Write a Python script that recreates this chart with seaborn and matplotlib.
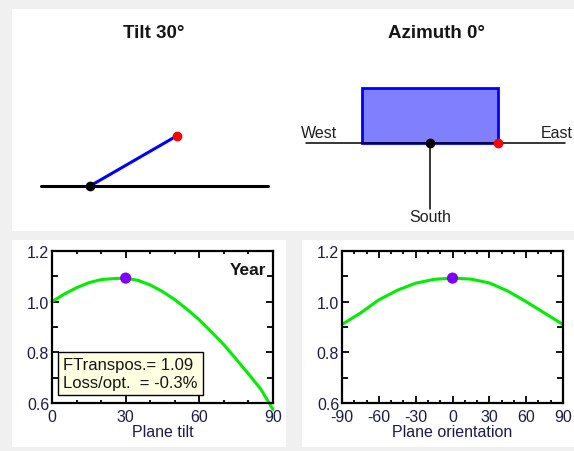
import numpy as np
import pandas as pd
import matplotlib.pyplot as plt
import seaborn as sns
from matplotlib.patches import Rectangle
from matplotlib.ticker import MultipleLocator, FormatStrFormatter

sns.set_theme(style="ticks")
plt.rcParams['font.family'] = ['Liberation Sans', 'DejaVu Sans']
plt.rcParams['axes.unicode_minus'] = False

# data
tilt_deg    = [0, 5, 10, 15, 20, 25, 30, 35, 40, 45, 50, 55, 60, 65, 70, 75, 80, 85, 90]
tilt_factor = [1.000, 1.030, 1.055, 1.075, 1.087, 1.091, 1.093, 1.084, 1.066, 1.040, 1.008, 0.970,
               0.928, 0.880, 0.830, 0.773, 0.715, 0.655, 0.575]
azim_deg    = [-90, -75, -60, -45, -30, -15, 0, 15, 30, 45, 60, 75, 90]
azim_factor = [0.910, 0.955, 1.007, 1.045, 1.073, 1.088, 1.093, 1.089, 1.074, 1.042, 1.000, 0.955, 0.910]
plane_tilt, plane_azim = 30, 0
opt_value = 1.093
ftranspos, loss_opt = 1.09, -0.3

W, H = 574, 452
txt_col = '#1c1c50'
green, violet = '#00ee00', '#8000ff'

def box(x0, y0, x1, y1):
    return [x0 / W, 1 - y1 / H, (x1 - x0) / W, (y1 - y0) / H]

fig = plt.figure(figsize=(W / 100, H / 100), dpi=100, facecolor='#f0f0f0')

# white panels
for x0, y0, x1, y1 in [(12, 10, 574, 232), (12, 241, 286, 448), (302, 241, 574, 448)]:
    fig.add_artist(Rectangle((x0 / W, 1 - y1 / H), (x1 - x0) / W, (y1 - y0) / H,
                             transform=fig.transFigure, facecolor='white', edgecolor='none', zorder=0))

# diagrams in pixel units
d = fig.add_axes([0, 0, 1, 1])
d.set_xlim(0, W)
d.set_ylim(H, 0)
d.axis('off')
d.patch.set_alpha(0)

# tilt sketch
bx, by, L = 90, 187, 100
ex = bx + L * np.cos(np.radians(plane_tilt))
ey = by - L * np.sin(np.radians(plane_tilt))
d.plot([41, 268], [by, by], color='black', lw=2.2)
d.plot([bx, ex], [by, ey], color='#0000ff', lw=2.2)
d.plot(bx, by, 'o', color='black', ms=6)
d.plot(ex, ey, 'o', color='#ff0000', ms=6)
d.text(154, 33, f"Tilt {plane_tilt}°", ha='center', va='center', fontsize=13.5, fontweight='bold', color='#151515')

# azimuth sketch
cx, cy, pw, ph = 430, 144, 136, 55
d.plot([306, 565], [cy, cy], color='black', lw=1.1)
d.plot([cx, cx], [cy, 210], color='black', lw=1.1)
d.add_patch(Rectangle((cx - pw / 2, cy - ph), pw, ph, facecolor='#8080ff', edgecolor='#0000ff', lw=2))
d.plot(cx, cy, 'o', color='black', ms=6)
d.plot(cx + pw / 2 * np.cos(np.radians(plane_azim)), cy, 'o', color='#ff0000', ms=6)
d.text(436, 33, f"Azimuth {plane_azim}°", ha='center', va='center', fontsize=13.5, fontweight='bold', color='#151515')
d.text(319, 134, "West", ha='center', va='center', fontsize=11.5, color='#202020')
d.text(557, 134, "East", ha='center', va='center', fontsize=11.5, color='#202020')
d.text(430, 218, "South", ha='center', va='center', fontsize=11.5, color='#202020')

def style(ax, xmin, xmax, xlabel):
    ax.set_xlim(xmin, xmax)
    ax.set_ylim(0.6, 1.2)
    ax.xaxis.set_major_locator(MultipleLocator(30))
    ax.xaxis.set_minor_locator(MultipleLocator(10))
    ax.yaxis.set_major_locator(MultipleLocator(0.2))
    ax.yaxis.set_minor_locator(MultipleLocator(0.1))
    ax.yaxis.set_major_formatter(FormatStrFormatter('%.1f'))
    ax.tick_params(which='both', direction='in', top=True, right=True, width=1.3, color='black',
                   labelsize=11.5, labelcolor=txt_col)
    ax.tick_params(which='major', length=5)
    ax.tick_params(axis='x', which='major', pad=4.5)
    ax.tick_params(axis='y', which='major', pad=2)
    ax.tick_params(axis='x', which='minor', length=2.5)
    ax.tick_params(axis='y', which='minor', length=4)
    for s in ax.spines.values():
        s.set_linewidth(1.6)
        s.set_color('black')
    ax.set_xlabel(xlabel, fontsize=11.5, color=txt_col, labelpad=0)
    ax.set_ylabel('')
    ax.set_facecolor('white')

# tilt curve
ax1 = fig.add_axes(box(52, 252, 273, 404))
sns.lineplot(x=tilt_deg, y=tilt_factor, ax=ax1, color=green, lw=2.2)
for ln in ax1.lines:
    ln.set_clip_on(False)
sns.scatterplot(x=[plane_tilt], y=[opt_value], ax=ax1, color=violet, s=65, edgecolor='none', zorder=5)
style(ax1, 0, 90, "Plane tilt")
ax1.text(0.97, 0.88, "Year", transform=ax1.transAxes, ha='right', va='center', fontsize=12.5,
         fontweight='bold', color='#151515')
ax1.text(0.05, 0.195, f"FTranspos.= {ftranspos:.2f}\nLoss/opt.  = {loss_opt:.1f}%", transform=ax1.transAxes,
         ha='left', va='center', fontsize=12, color='#151515', linespacing=1.2,
         bbox=dict(boxstyle='square,pad=0.3', facecolor='#ffffe1', edgecolor='black', lw=1))

# orientation curve
ax2 = fig.add_axes(box(342, 252, 563, 404))
sns.lineplot(x=azim_deg, y=azim_factor, ax=ax2, color=green, lw=2.2)
sns.scatterplot(x=[plane_azim], y=[opt_value], ax=ax2, color=violet, s=65, edgecolor='none', zorder=5)
style(ax2, -90, 90, "Plane orientation")

fig.savefig('out.png', dpi=100, facecolor=fig.get_facecolor())
